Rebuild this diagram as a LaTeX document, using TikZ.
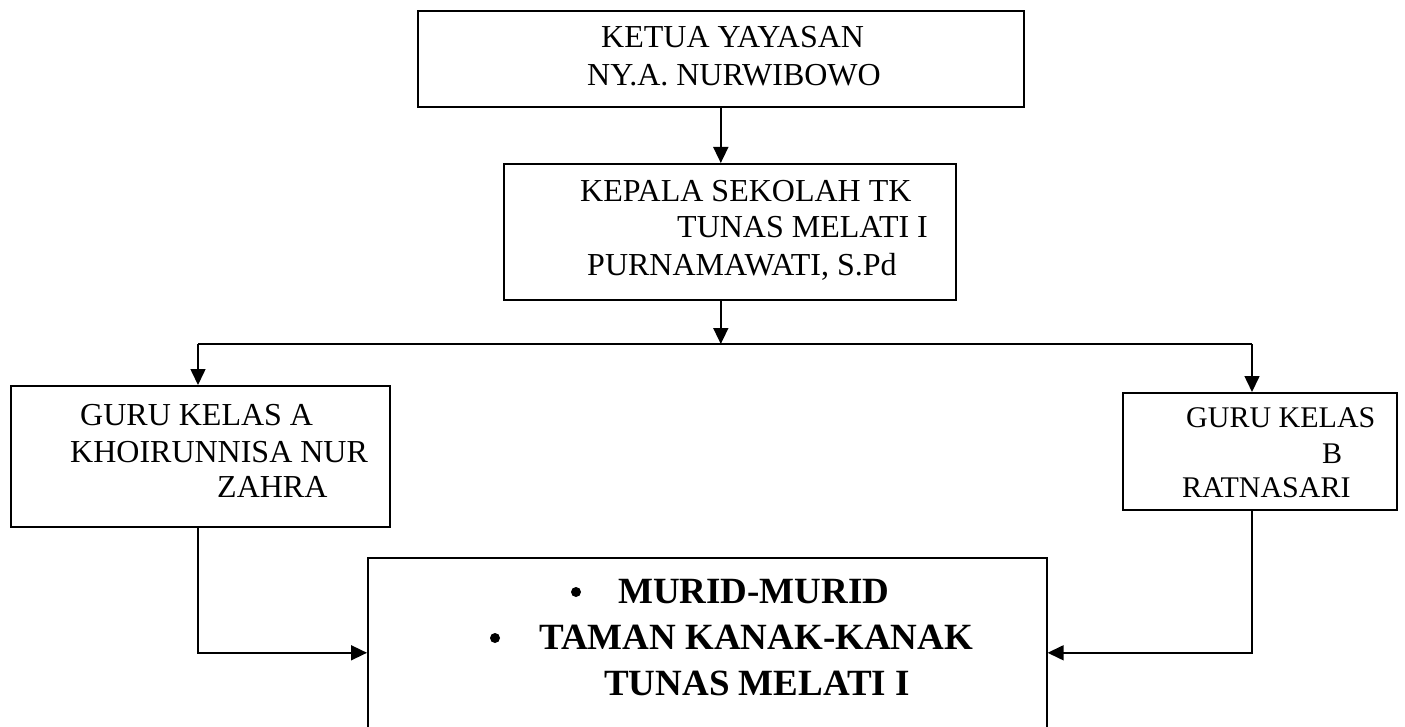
\documentclass[tikz,border=0pt]{standalone}
\usepackage{fontspec}
\setmainfont{Liberation Serif}
\usetikzlibrary{arrows.meta}
\begin{document}
\begin{tikzpicture}[x=1pt,y=-1pt,
  box/.style={draw, line width=1.6pt, rectangle, inner sep=0pt, anchor=north west},
  txt/.style={inner sep=0pt, anchor=base west, font=\fontsize{32}{38}\selectfont},
  rtxt/.style={inner sep=0pt, anchor=base west, font=\fontsize{30}{36}\selectfont},
  btxt/.style={inner sep=0pt, anchor=base west, font=\fontsize{37}{46}\selectfont\bfseries},
  conn/.style={line width=1.6pt},
  arr/.style={conn, -{Triangle[length=16pt,width=15pt]}}]
\useasboundingbox (0,0) rectangle (1405,727);
\clip (0,0) rectangle (1405,727);
% boxes
\node[box, minimum width=606pt, minimum height=96pt] (ketua) at (417,10) {};
\node[box, minimum width=452pt, minimum height=136pt] (kepala) at (503,163) {};
\node[box, minimum width=379pt, minimum height=141pt] (gurua) at (10,385) {};
\node[box, minimum width=274pt, minimum height=117pt] (gurub) at (1122,392) {};
\node[box, minimum width=679pt, minimum height=190pt] (murid) at (367,557) {};
% texts
\node[txt] (k1) at (601,48) {KETUA YAYASAN};
\node[txt] (k2) at (587,86) {NY.A. NURWIBOWO};
\node[txt] (p1) at (580,202) {KEPALA SEKOLAH TK};
\node[txt] (p2) at (677,238) {TUNAS MELATI I};
\node[txt] (p3) at (587,276) {PURNAMAWATI, S.Pd};
\node[txt] (a1) at (80,425) {GURU KELAS A};
\node[txt] (a2) at (70,462) {KHOIRUNNISA NUR};
\node[txt] (a3) at (217,497) {ZAHRA};
\node[rtxt] (b1) at (1186,427) {GURU KELAS};
\node[rtxt] (b2) at (1322,463) {B};
\node[rtxt] (b3) at (1182,497) {RATNASARI};
\node[btxt] (m1) at (618,603) {MURID-MURID};
\node[btxt] (m2) at (539,649) {TAMAN KANAK-KANAK};
\node[btxt] (m3) at (604,695) {TUNAS MELATI I};
\fill (576,592) circle (5pt);
\fill (495,638) circle (5pt);
% connectors
\coordinate (jL) at (198,344);
\coordinate (jR) at (1252,344);
\draw[arr] (ketua.south) -- (ketua.south |- kepala.north);
\draw[arr] (ketua.south |- kepala.south) -- (ketua.south |- jL);
\draw[conn] (jL) -- (jR);
\draw[arr] (jL) -- (jL |- gurua.north);
\draw[arr] (jR) -- (jR |- gurub.north);
\draw[arr] (jL |- gurua.south) |- (murid.west);
\draw[arr] (jR |- gurub.south) |- (murid.east);
\end{tikzpicture}
\end{document}
